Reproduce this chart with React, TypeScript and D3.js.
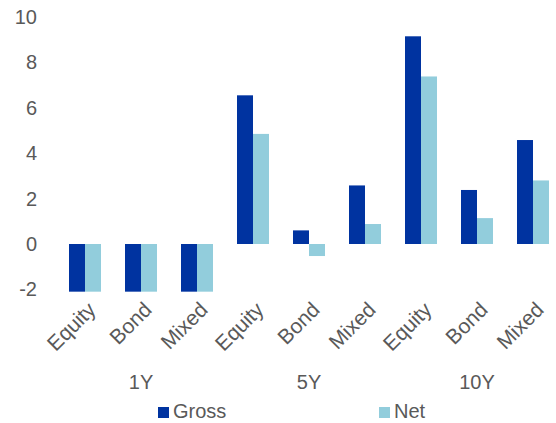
import React from "react";
import * as d3 from "d3";

const categories = ["Equity", "Bond", "Mixed", "Equity", "Bond", "Mixed", "Equity", "Bond", "Mixed"];
const groups = ["1Y", "5Y", "10Y"];
const gross = [-2.1, -2.1, -2.1, 6.55, 0.6, 2.58, 9.15, 2.38, 4.58];
const net = [-2.1, -2.1, -2.1, 4.85, -0.53, 0.88, 7.38, 1.14, 2.8];
const yTicks = [-2, 0, 2, 4, 6, 8, 10];
const seriesNames = ["Gross", "Net"];

const W = 556;
const H = 423;
const FONT = "'Liberation Sans', Arial, sans-serif";
const TEXT = "#595959";
const COLORS = ["#0033A0", "#92CDDC"];

export default function App() {
  const x = d3.scaleBand<number>().domain(d3.range(categories.length)).range([57, 561]).paddingInner(0.4286).paddingOuter(0.2143);
  const xs = d3.scaleBand<string>().domain(seriesNames).range([0, x.bandwidth()]);
  const y = d3.scaleLinear().domain([-2, 10]).range([289.4, 17]);
  const series = [gross, net];
  const fs = 20;
  return (
    <svg width={W} height={H} style={{ position: "absolute", left: 0, top: 0 }} fontFamily={FONT}>
      <rect width={W} height={H} fill="#fff" />
      {yTicks.map((t) => (
        <text key={t} x={37} y={y(t)} dy="0.35em" textAnchor="end" fontSize={fs} fill={TEXT}>
          {t}
        </text>
      ))}
      {series.map((vals, s) =>
        vals.map((v, i) => (
          <rect
            key={s + "-" + i}
            x={(x(i) as number) + (xs(seriesNames[s]) as number)}
            width={xs.bandwidth()}
            y={Math.min(y(v), y(0))}
            height={Math.abs(y(v) - y(0))}
            fill={COLORS[s]}
          />
        ))
      )}
      {categories.map((c, i) => {
        const cx = (x(i) as number) + x.bandwidth() / 2;
        return (
          <text key={"c" + i} transform={`translate(${cx + 12},${311}) rotate(-45)`} textAnchor="end" fontSize={21} fill={TEXT}>
            {c}
          </text>
        );
      })}
      {groups.map((g, gi) => {
        const cx = (x(gi * 3 + 1) as number) + x.bandwidth() / 2;
        return (
          <text key={g} x={cx} y={389} textAnchor="middle" fontSize={fs} fill={TEXT}>
            {g}
          </text>
        );
      })}
      {seriesNames.map((n, s) => {
        const lx = [158, 379][s];
        return (
          <g key={n}>
            <rect x={lx} y={407} width={11} height={11} fill={COLORS[s]} />
            <text x={lx + 15} y={418} fontSize={fs} fill={TEXT}>
              {n}
            </text>
          </g>
        );
      })}
    </svg>
  );
}
